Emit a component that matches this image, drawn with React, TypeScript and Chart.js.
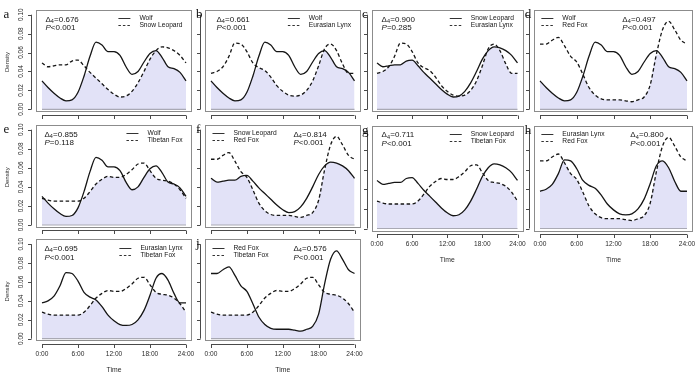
import React, { useEffect, useRef } from 'react';
import { Chart, registerables } from 'chart.js';

Chart.register(...registerables);

// ---------- data ----------
const HOURS = [0, 1, 2, 3, 4, 5, 6, 7, 8, 9, 10, 11, 12, 13, 14, 15, 16, 17, 18, 19, 20, 21, 22, 23, 24];

const WOLF = [0.030, 0.023, 0.017, 0.012, 0.009, 0.010, 0.018, 0.035, 0.056, 0.071, 0.068, 0.061, 0.061, 0.057, 0.045, 0.037, 0.040, 0.050, 0.059, 0.062, 0.055, 0.045, 0.043, 0.039, 0.030];
const SNOW_LEOPARD = [0.049, 0.045, 0.046, 0.047, 0.047, 0.051, 0.052, 0.046, 0.039, 0.033, 0.027, 0.021, 0.016, 0.013, 0.014, 0.019, 0.028, 0.040, 0.053, 0.062, 0.066, 0.065, 0.062, 0.057, 0.049];
const EURASIAN_LYNX = [0.038, 0.040, 0.045, 0.056, 0.070, 0.069, 0.061, 0.049, 0.044, 0.041, 0.034, 0.025, 0.019, 0.015, 0.014, 0.015, 0.020, 0.030, 0.046, 0.064, 0.069, 0.062, 0.048, 0.038, 0.038];
const RED_FOX = [0.069, 0.069, 0.073, 0.076, 0.067, 0.056, 0.050, 0.037, 0.023, 0.015, 0.011, 0.010, 0.010, 0.010, 0.009, 0.008, 0.010, 0.013, 0.026, 0.058, 0.084, 0.093, 0.084, 0.073, 0.069];
const TIBETAN_FOX = [0.028, 0.026, 0.025, 0.025, 0.025, 0.025, 0.025, 0.028, 0.035, 0.043, 0.048, 0.051, 0.050, 0.050, 0.053, 0.058, 0.064, 0.065, 0.057, 0.049, 0.047, 0.046, 0.043, 0.037, 0.028];

const SPECIES: Record<string, number[]> = {
  'Wolf': WOLF,
  'Snow Leopard': SNOW_LEOPARD,
  'Eurasian Lynx': EURASIAN_LYNX,
  'Red Fox': RED_FOX,
  'Tibetan Fox': TIBETAN_FOX,
};

const PANEL_LETTERS = ['a', 'b', 'c', 'd', 'e', 'f', 'g', 'h', 'i', 'j'];
const SPECIES_A = ['Wolf', 'Wolf', 'Snow Leopard', 'Wolf', 'Wolf', 'Snow Leopard', 'Snow Leopard', 'Eurasian Lynx', 'Eurasian Lynx', 'Red Fox'];
const SPECIES_B = ['Snow Leopard', 'Eurasian Lynx', 'Eurasian Lynx', 'Red Fox', 'Tibetan Fox', 'Red Fox', 'Tibetan Fox', 'Red Fox', 'Tibetan Fox', 'Tibetan Fox'];
const DELTA4 = [0.676, 0.661, 0.900, 0.497, 0.855, 0.814, 0.711, 0.800, 0.695, 0.576];
const P_TEXT = ['<0.001', '<0.001', '=0.285', '<0.001', '=0.118', '<0.001', '<0.001', '<0.001', '<0.001', '<0.001'];

const X_TICKS = [0, 6, 12, 18, 24];
const X_TICK_LABELS = ['0:00', '6:00', '12:00', '18:00', '24:00'];
const Y_TICKS = [0, 0.02, 0.04, 0.06, 0.08, 0.10];
const Y_TICK_LABELS = ['0.00', '0.02', '0.04', '0.06', '0.08', '0.10'];
const X_TITLE = 'Time';
const Y_TITLE = 'Density';

// ---------- layout ----------
const W = 700;
const H = 374;
const X_MIN = -0.92;
const X_MAX = 24.92;
const Y_MIN = -0.002;
const Y_MAX = 0.105;

const COLS = [
  { x0: 42, x24: 186 },
  { x0: 211, x24: 354.5 },
  { x0: 377, x24: 517.5 },
  { x0: 540, x24: 687 },
];
const ROWS = [
  { y0: 109.3, y10: 14.7 },
  { y0: 225, y10: 129.7 },
  { y0: 228.5, y10: 130.5 },
  { y0: 338.7, y10: 244.2 },
];
const PANEL_COL = [0, 1, 2, 3, 0, 1, 2, 3, 0, 1];
const PANEL_ROW = [0, 0, 0, 0, 1, 1, 2, 2, 3, 3];
const LEGEND_LEFT = [false, false, false, true, false, true, false, true, false, true];
const STAT_DX = [9, 11, 10, 88, 8, 88, 10, 96, 8, 88];
const SHOW_Y_LABELS = [true, false, false, false, true, false, false, false, true, false];
const SHOW_X_LABELS = [false, false, false, false, false, false, true, true, true, true];
const SHOW_LETTER = [true, true, true, true, true, true, true, true, false, true];

const SANS = '"Liberation Sans", Arial, sans-serif';
const SERIF = '"Liberation Serif", "Times New Roman", serif';
const FILL = 'rgb(226, 226, 247)';
const INK = '#151515';

function areaFor(i: number) {
  const c = COLS[PANEL_COL[i]];
  const r = ROWS[PANEL_ROW[i]];
  const p = (c.x24 - c.x0) / 24;
  const q = (r.y0 - r.y10) / 0.1;
  return {
    left: c.x0 + X_MIN * p,
    right: c.x24 + (X_MAX - 24) * p,
    top: r.y10 - (Y_MAX - 0.1) * q,
    bottom: r.y0 - Y_MIN * q,
  };
}

const crisp = (v: number) => Math.round(v) + 0.5;

function drawStats(ctx: CanvasRenderingContext2D, x: number, y1: number, y2: number, i: number) {
  ctx.fillStyle = INK;
  ctx.textAlign = 'left';
  ctx.textBaseline = 'middle';
  ctx.font = `8px ${SANS}`;
  ctx.fillText('\u0394', x, y1);
  const w1 = ctx.measureText('\u0394').width;
  ctx.font = `5.5px ${SANS}`;
  ctx.fillText('4', x + w1, y1 + 2);
  const w2 = ctx.measureText('4').width;
  ctx.font = `8px ${SANS}`;
  ctx.fillText('=' + DELTA4[i].toFixed(3), x + w1 + w2 + 0.2, y1);

  ctx.font = `italic 8px ${SANS}`;
  ctx.fillText('P', x, y2);
  const wp = ctx.measureText('P').width;
  ctx.font = `8px ${SANS}`;
  ctx.fillText(P_TEXT[i], x + wp, y2);
}

function drawLegend(ctx: CanvasRenderingContext2D, area: any, i: number) {
  const names = [SPECIES_A[i], SPECIES_B[i]];
  ctx.font = `6.7px ${SANS}`;
  const maxW = Math.max(...names.map((n) => ctx.measureText(n).width));
  let textX: number;
  if (LEGEND_LEFT[i]) {
    textX = area.left + 28;
  } else {
    textX = area.right - 9 - maxW;
  }
  const ys = [area.top + 8.5, area.top + 15.5];
  names.forEach((n, k) => {
    ctx.save();
    ctx.strokeStyle = '#333';
    ctx.lineWidth = 1;
    ctx.setLineDash(k === 0 ? [] : [2.5, 2]);
    ctx.beginPath();
    ctx.moveTo(textX - 21, crisp(ys[k]));
    ctx.lineTo(textX - 9, crisp(ys[k]));
    ctx.stroke();
    ctx.restore();
    ctx.fillStyle = INK;
    ctx.textAlign = 'left';
    ctx.textBaseline = 'middle';
    ctx.font = `6.7px ${SANS}`;
    ctx.fillText(n, textX, ys[k]);
  });
}

function makeDecor(i: number) {
  return {
    id: 'decor' + i,
    afterDraw(chart: any) {
      const ctx: CanvasRenderingContext2D = chart.ctx;
      const area = chart.chartArea;
      const xs = chart.scales.x;
      const ys = chart.scales.y;
      ctx.save();

      // baseline of the overlap polygon
      ctx.strokeStyle = '#a9a9b4';
      ctx.lineWidth = 1.2;
      ctx.beginPath();
      ctx.moveTo(xs.getPixelForValue(0), ys.getPixelForValue(0));
      ctx.lineTo(xs.getPixelForValue(24), ys.getPixelForValue(0));
      ctx.stroke();

      // box
      ctx.strokeStyle = '#8c8c8c';
      ctx.lineWidth = 1;
      ctx.strokeRect(crisp(area.left), crisp(area.top), Math.round(area.right - area.left), Math.round(area.bottom - area.top));

      // y axis
      ctx.strokeStyle = '#4a4a4a';
      const ax = crisp(area.left - 5);
      ctx.beginPath();
      ctx.moveTo(ax, ys.getPixelForValue(0));
      ctx.lineTo(ax, ys.getPixelForValue(0.1));
      Y_TICKS.forEach((v) => {
        const y = crisp(ys.getPixelForValue(v));
        ctx.moveTo(ax, y);
        ctx.lineTo(ax - 3.5, y);
      });
      ctx.stroke();

      // x axis
      const ay = crisp(area.bottom + 3.5);
      ctx.beginPath();
      ctx.moveTo(xs.getPixelForValue(0), ay);
      ctx.lineTo(xs.getPixelForValue(24), ay);
      X_TICKS.forEach((v) => {
        const x = crisp(xs.getPixelForValue(v));
        ctx.moveTo(x, ay);
        ctx.lineTo(x, ay + 3.5);
      });
      ctx.stroke();

      ctx.fillStyle = '#2a2a2a';
      if (SHOW_Y_LABELS[i]) {
        ctx.font = `6.5px ${SANS}`;
        ctx.textAlign = 'center';
        ctx.textBaseline = 'middle';
        Y_TICKS.forEach((v, k) => {
          ctx.save();
          ctx.translate(area.left - 15, ys.getPixelForValue(v));
          ctx.rotate(-Math.PI / 2);
          ctx.fillText(Y_TICK_LABELS[k], 0, 0);
          ctx.restore();
        });
        ctx.save();
        ctx.font = `6px ${SANS}`;
        ctx.translate(7, ys.getPixelForValue(0.05));
        ctx.rotate(-Math.PI / 2);
        ctx.fillText(Y_TITLE, 0, 0);
        ctx.restore();
      }
      if (SHOW_X_LABELS[i]) {
        ctx.font = `6.6px ${SANS}`;
        ctx.textAlign = 'center';
        ctx.textBaseline = 'middle';
        X_TICKS.forEach((v, k) => {
          ctx.fillText(X_TICK_LABELS[k], xs.getPixelForValue(v), area.bottom + 14);
        });
        ctx.font = `6.8px ${SANS}`;
        ctx.fillText(X_TITLE, xs.getPixelForValue(12), area.bottom + 30);
      }

      // panel letter
      if (SHOW_LETTER[i]) {
        ctx.font = `13px ${SERIF}`;
        ctx.textAlign = 'left';
        ctx.textBaseline = 'alphabetic';
        ctx.fillStyle = '#111';
        const lx = PANEL_COL[i] === 0 ? 3.5 : area.left - 9.5;
        ctx.fillText(PANEL_LETTERS[i], lx, area.top + 8);
      }

      drawStats(ctx, area.left + STAT_DX[i], area.top + 9.5, area.top + 18, i);
      drawLegend(ctx, area, i);
      ctx.restore();
    },
  };
}

function makeChart(canvas: HTMLCanvasElement, i: number) {
  const a = SPECIES[SPECIES_A[i]];
  const b = SPECIES[SPECIES_B[i]];
  const overlap = HOURS.map((_, k) => Math.min(a[k], b[k]));
  const pts = (arr: number[]) => HOURS.map((h, k) => ({ x: h, y: arr[k] }));
  const area = areaFor(i);
  return new Chart(canvas, {
    type: 'line',
    data: {
      datasets: [
        {
          label: SPECIES_A[i],
          data: pts(a),
          borderColor: INK,
          borderWidth: 1.3,
          pointRadius: 0,
          fill: false,
          cubicInterpolationMode: 'monotone',
          order: 1,
        },
        {
          label: SPECIES_B[i],
          data: pts(b),
          borderColor: INK,
          borderWidth: 1.3,
          borderDash: [3.5, 2.5],
          pointRadius: 0,
          fill: false,
          cubicInterpolationMode: 'monotone',
          order: 2,
        },
        {
          label: 'overlap',
          data: pts(overlap),
          borderColor: 'rgba(0,0,0,0)',
          borderWidth: 0,
          backgroundColor: FILL,
          pointRadius: 0,
          fill: 'origin',
          cubicInterpolationMode: 'monotone',
          order: 3,
        },
      ],
    },
    options: {
      responsive: false,
      maintainAspectRatio: false,
      devicePixelRatio: 1,
      animation: false,
      events: [],
      layout: {
        padding: {
          left: area.left,
          right: W - area.right,
          top: area.top,
          bottom: H - area.bottom,
        },
      },
      scales: {
        x: { type: 'linear', display: false, min: X_MIN, max: X_MAX },
        y: { type: 'linear', display: false, min: Y_MIN, max: Y_MAX },
      },
      plugins: {
        legend: { display: false },
        tooltip: { enabled: false },
      },
    },
    plugins: [makeDecor(i)],
  } as any);
}

export default function App() {
  const refs = useRef<(HTMLCanvasElement | null)[]>([]);
  useEffect(() => {
    const charts = PANEL_LETTERS.map((_, i) => makeChart(refs.current[i] as HTMLCanvasElement, i));
    return () => charts.forEach((c) => c.destroy());
  }, []);
  return (
    <div style={{ position: 'absolute', left: 0, top: 0, width: W, height: H, background: '#fff', overflow: 'hidden' }}>
      {PANEL_LETTERS.map((l, i) => (
        <canvas
          key={l}
          ref={(el) => {
            refs.current[i] = el;
          }}
          width={W}
          height={H}
          style={{ position: 'absolute', left: 0, top: 0, width: W, height: H }}
        />
      ))}
    </div>
  );
}
